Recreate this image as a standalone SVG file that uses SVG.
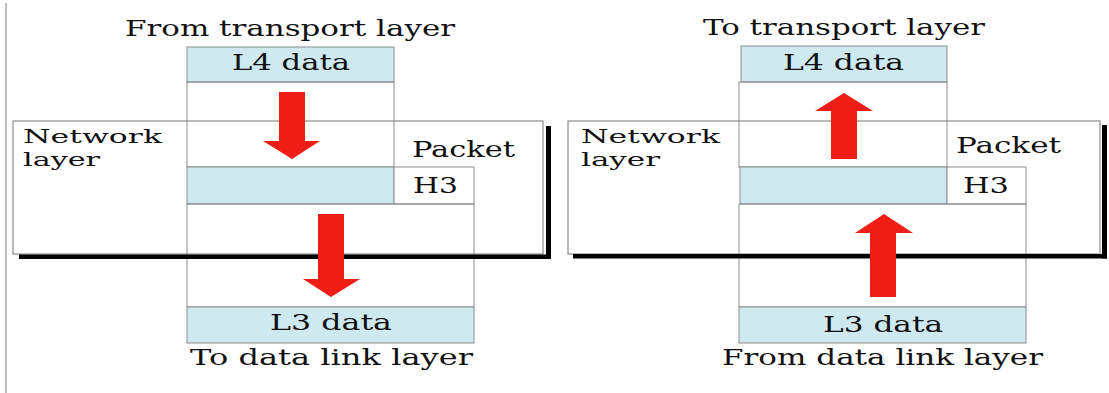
<svg xmlns="http://www.w3.org/2000/svg" width="1109" height="393" viewBox="0 0 1109 393">
  <style>
    text { font-family: "DejaVu Serif", "Liberation Serif", serif; font-size: 22px; fill: #111; }
    .lbl { font-size: 19px; }
    .frame { fill: #fff; stroke: #8c8c8c; stroke-width: 1.2; }
    .cell { fill: none; stroke: #8c8c8c; stroke-width: 1; }
    .data { fill: #cfe9f1; stroke: #8c8c8c; stroke-width: 1; }
    .hdr { fill: #fff; stroke: #8c8c8c; stroke-width: 1; }
    .shadow { fill: #000; }
    .arrow { fill: #ee1d16; }
  </style>

  <!-- page margin rule -->
  <line x1="6" y1="3" x2="6" y2="393" stroke="#bdbdbd" stroke-width="2"/>

  <!-- ===== Sending side ===== -->
  <g id="send-network-layer">
    <rect class="frame" x="13" y="121" width="530" height="133"/>
    <text class="lbl" x="23" y="143" textLength="139" lengthAdjust="spacingAndGlyphs">Network</text>
    <text class="lbl" x="23" y="166" textLength="77" lengthAdjust="spacingAndGlyphs">layer</text>
  </g>
  <g id="send-l4">
    <text x="125" y="36" textLength="330" lengthAdjust="spacingAndGlyphs">From transport layer</text>
    <rect class="data" x="187" y="47" width="207" height="35"/>
    <text x="232" y="70" textLength="118" lengthAdjust="spacingAndGlyphs">L4 data</text>
    <rect class="cell" x="187" y="82" width="207" height="85"/>
  </g>
  <g id="send-packet">
    <text x="412" y="157" textLength="103" lengthAdjust="spacingAndGlyphs">Packet</text>
    <rect class="data" x="187" y="167" width="207" height="37"/>
    <rect class="hdr" x="394" y="167" width="80" height="37"/>
    <text x="413" y="193" textLength="45" lengthAdjust="spacingAndGlyphs">H3</text>
  </g>
  <g id="send-l3">
    <rect class="cell" x="187" y="204" width="287" height="103"/>
    <rect class="data" x="187" y="307" width="287" height="36"/>
    <text x="270" y="330" textLength="122" lengthAdjust="spacingAndGlyphs">L3 data</text>
    <text x="190" y="365" textLength="283" lengthAdjust="spacingAndGlyphs">To data link layer</text>
  </g>
  <g id="send-shadow">
    <rect class="shadow" x="19" y="254.5" width="532" height="4.5"/>
    <rect class="shadow" x="546" y="126" width="5" height="133"/>
  </g>

  <!-- ===== Receiving side ===== -->
  <g id="recv-network-layer">
    <rect class="frame" x="568" y="121" width="532" height="133"/>
    <text class="lbl" x="581" y="143" textLength="139" lengthAdjust="spacingAndGlyphs">Network</text>
    <text class="lbl" x="581" y="166" textLength="79" lengthAdjust="spacingAndGlyphs">layer</text>
  </g>
  <g id="recv-l4">
    <text x="703" y="35" textLength="282" lengthAdjust="spacingAndGlyphs">To transport layer</text>
    <rect class="data" x="741" y="46" width="206" height="36"/>
    <text x="783" y="70" textLength="121" lengthAdjust="spacingAndGlyphs">L4 data</text>
    <rect class="cell" x="739" y="82" width="208" height="85"/>
  </g>
  <g id="recv-packet">
    <text x="956" y="153" textLength="105" lengthAdjust="spacingAndGlyphs">Packet</text>
    <rect class="data" x="740" y="167" width="207" height="37"/>
    <rect class="hdr" x="947" y="167" width="79" height="37"/>
    <text x="963" y="193" textLength="46" lengthAdjust="spacingAndGlyphs">H3</text>
  </g>
  <g id="recv-l3">
    <rect class="cell" x="739" y="204" width="287" height="103"/>
    <rect class="data" x="739" y="307" width="287" height="36"/>
    <text x="823" y="332" textLength="120" lengthAdjust="spacingAndGlyphs">L3 data</text>
    <text x="722" y="365" textLength="321" lengthAdjust="spacingAndGlyphs">From data link layer</text>
  </g>
  <g id="recv-shadow">
    <rect class="shadow" x="573" y="254" width="534" height="4.5"/>
    <rect class="shadow" x="1102" y="125" width="5" height="133.5"/>
  </g>

  <!-- ===== flow arrows ===== -->
  <g id="connectors">
    <polygon class="arrow" points="279,92 305,92 305,141 320,141 292,159 263,141 279,141"/>
    <polygon class="arrow" points="318,214 344,214 344,279 360,279 331,297 303,279 318,279"/>
    <polygon class="arrow" points="831,159 857,159 857,111 873,111 844,93 815,111 831,111"/>
    <polygon class="arrow" points="870,297 896,297 896,233 913,233 884,214 855,233 870,233"/>
  </g>
</svg>
